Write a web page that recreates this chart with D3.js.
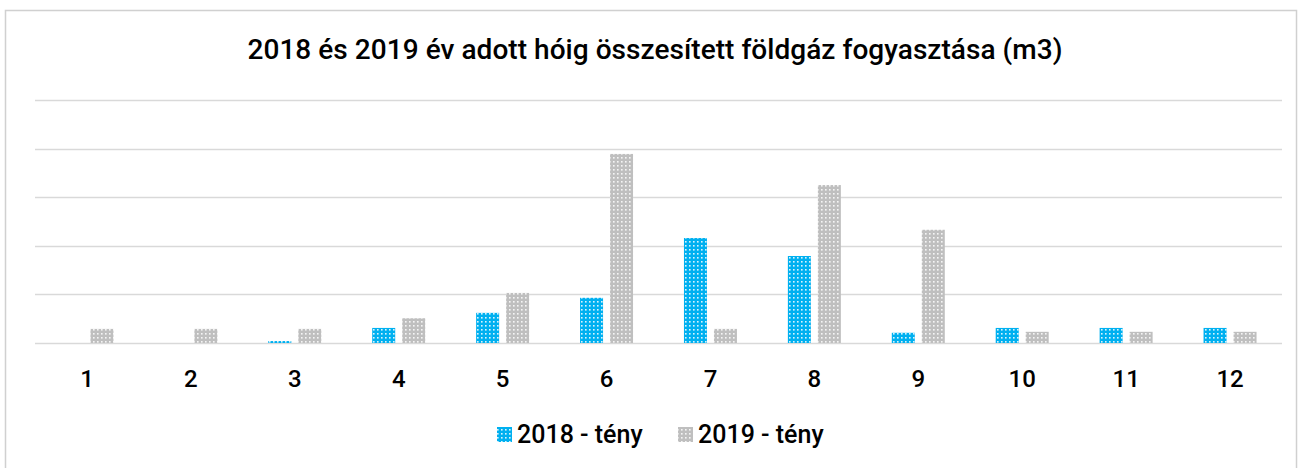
<!DOCTYPE html>
<html lang="en">
<head>
  <meta charset="UTF-8">
  <title>Földgáz fogyasztás</title>
  <style>
    body { margin: 0; background: #fff; }
    text { font-family: Roboto, "DejaVu Sans", sans-serif; fill: #000; }
  </style>
</head>
<body>
  <svg id="container" height="468" width="1303"></svg>
<script src="https://cdn.jsdelivr.net/npm/d3@7"></script>
<script>
  // data (no axis labels in the original, so units are arbitrary)
  let months = ["1", "2", "3", "4", "5", "6", "7", "8", "9", "10", "11", "12"]
  let values2018 = [0, 0, 4, 31, 62, 93, 216, 179, 21, 31, 31, 31]
  let values2019 = [29, 29, 29, 51, 103, 389, 29, 325, 233, 23, 23, 23]
  let seriesNames = ["2018 - tény", "2019 - tény"]
  let gridTicks = [0, 100, 200, 300, 400, 500]

  let svg = d3.select("#container")
  let colors = ["#00b0f0", "#bfbfbf"]

  // dotted pattern fills
  let defs = svg.append("defs")
  colors.forEach((c, i) => {
    let p = defs.append("pattern")
                .attr("id", "pat" + i)
                .attr("patternUnits", "userSpaceOnUse")
                .attr("width", 4).attr("height", 4)
    p.append("rect").attr("width", 4).attr("height", 4).attr("fill", c)
    p.append("rect").attr("x", 1).attr("y", 1).attr("width", 1.6).attr("height", 1.6).attr("fill", "#fff").attr("opacity", 0.85)
  })

  // outer frame
  svg.append("rect")
     .attr("x", 5.5).attr("y", 10.5)
     .attr("width", 1291).attr("height", 470)
     .attr("fill", "none").attr("stroke", "#d0d0d0").attr("stroke-width", 1.5)

  let plotLeft = 35, plotRight = 1282, plotTop = 100, plotBottom = 343

  let x = d3.scaleBand().domain(months).range([plotLeft, plotRight])
  let y = d3.scaleLinear().domain([0, 500]).range([plotBottom, plotTop])

  svg.append("g")
     .selectAll("line")
     .data(gridTicks)
     .enter()
     .append("line")
     .attr("x1", plotLeft).attr("x2", plotRight)
     .attr("y1", d => Math.round(y(d)) + 0.5).attr("y2", d => Math.round(y(d)) + 0.5)
     .attr("stroke", "#d9d9d9").attr("stroke-width", 1.5)

  let barW = 23, gap = 7
  let series = [values2018, values2019]
  series.forEach((vals, i) => {
    svg.append("g")
       .selectAll("rect")
       .data(vals)
       .enter()
       .append("rect")
       .attr("x", (d, j) => x(months[j]) + x.bandwidth() / 2 - barW - gap / 2 + i * (barW + gap))
       .attr("y", d => y(d))
       .attr("width", barW)
       .attr("height", d => plotBottom - y(d))
       .attr("fill", "url(#pat" + i + ")")
  })

  // category labels
  let xAxis = svg.append("g").attr("transform", "translate(0," + plotBottom + ")")
                 .call(d3.axisBottom(x).tickSize(0).tickPadding(0))
  xAxis.select(".domain").remove()
  xAxis.selectAll("text")
       .attr("y", 44)
       .attr("dy", 0)
       .style("font-size", "24px")
       .style("font-weight", 500)
       .style("font-family", "Roboto, sans-serif")
       .attr("fill", "#000")

  svg.append("text")
     .attr("x", 655).attr("y", 59)
     .attr("text-anchor", "middle")
     .attr("textLength", 815)
     .attr("lengthAdjust", "spacing")
     .style("font-size", "28px")
     .style("font-weight", 500)
     .text("2018 és 2019 év adott hóig összesített földgáz fogyasztása (m3)")

  // legend
  let legendX = [497, 678]
  let legend = svg.append("g")
  seriesNames.forEach((n, i) => {
    legend.append("rect")
          .attr("x", legendX[i]).attr("y", 427)
          .attr("width", 15).attr("height", 15)
          .attr("fill", "url(#pat" + i + ")")
    legend.append("text")
          .attr("x", legendX[i] + 20).attr("y", 443)
          .style("font-size", "25px")
          .style("font-weight", 500)
          .text(n)
  })
</script>
</body>
</html>
